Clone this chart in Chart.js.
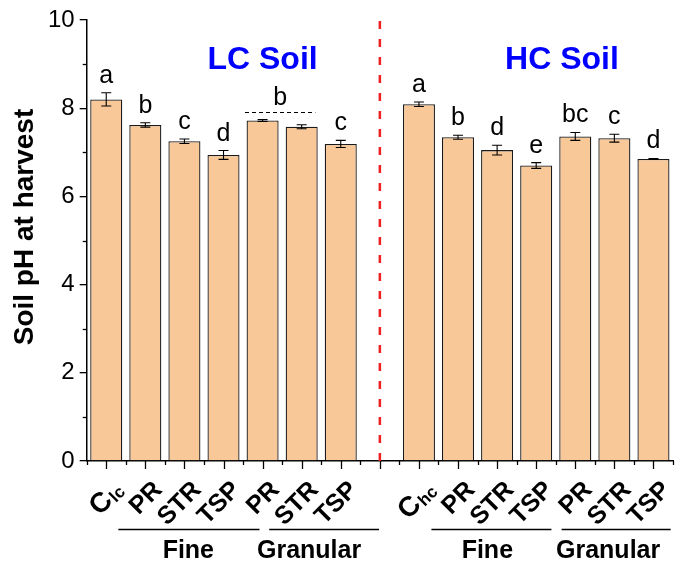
<!DOCTYPE html>
<html><head><meta charset="utf-8">
<script src="https://cdn.jsdelivr.net/npm/chart.js@4/dist/chart.umd.min.js"></script>
<style>html,body{margin:0;padding:0;background:#fff}</style>
</head><body>
<canvas id="c" width="681" height="564"></canvas>
<script>
// ---- data ----
const lcLabels = ['C|lc', 'PR', 'STR', 'TSP', 'PR', 'STR', 'TSP'];
const hcLabels = ['C|hc', 'PR', 'STR', 'TSP', 'PR', 'STR', 'TSP'];
const lcValues = [8.20, 7.62, 7.25, 6.94, 7.72, 7.58, 7.19];
const lcErrors = [0.15, 0.05, 0.05, 0.10, 0.02, 0.045, 0.08];
const lcLetters = ['a', 'b', 'c', 'd', '', '', 'c'];
const lcSharedLetter = 'b';           // shared by LC granular PR and STR
const hcValues = [8.09, 7.34, 7.05, 6.70, 7.36, 7.32, 6.85];
const hcErrors = [0.05, 0.045, 0.11, 0.065, 0.09, 0.09, 0.01];
const hcLetters = ['a', 'b', 'd', 'e', 'bc', 'c', 'd'];
const groupNames = ['Fine', 'Granular', 'Fine', 'Granular'];
const soilTitles = ['LC Soil', 'HC Soil'];
const yTicks = [0, 2, 4, 6, 8, 10];
const yTitle = 'Soil pH at harvest';

// ---- build ----
const labels = [...lcLabels, '', ...hcLabels];
const values = [...lcValues, null, ...hcValues];
const errors = [...lcErrors, null, ...hcErrors];
const letters = [...lcLetters, '', ...hcLetters];
const FONT = "'Liberation Sans', Arial, sans-serif";

const overlay = {
  id: 'overlay',
  afterDraw(chart) {
    const ctx = chart.ctx, x = chart.scales.x, y = chart.scales.y, ca = chart.chartArea;
    ctx.save();
    ctx.strokeStyle = '#000'; ctx.fillStyle = '#000';
    // y minor ticks
    ctx.lineWidth = 1.3;
    for (let v = 1; v < 10; v += 2) {
      const py = Math.round(y.getPixelForValue(v)) + 0.5;
      ctx.beginPath(); ctx.moveTo(ca.left - 4, py); ctx.lineTo(ca.left, py); ctx.stroke();
    }
    // x ticks: long at centers, short at boundaries
    for (let i = 0; i < labels.length; i++) {
      const px = Math.round(x.getPixelForValue(i)) + 0.5;
      ctx.beginPath(); ctx.moveTo(px, ca.bottom); ctx.lineTo(px, ca.bottom + 8); ctx.stroke();
    }
    for (let i = 0; i <= labels.length; i++) {
      const px = Math.round(x.getPixelForValue(i - 0.5)) + 0.5;
      ctx.beginPath(); ctx.moveTo(px, ca.bottom); ctx.lineTo(px, ca.bottom + 4); ctx.stroke();
    }
    // error bars + letters
    ctx.lineWidth = 1.1;
    ctx.font = '25px ' + FONT; ctx.textAlign = 'center'; ctx.textBaseline = 'alphabetic';
    values.forEach((v, i) => {
      if (v === null) return;
      const e = errors[i], px = x.getPixelForValue(i);
      const yt = y.getPixelForValue(v + e), yb = y.getPixelForValue(v - e);
      ctx.beginPath();
      ctx.moveTo(px, yt); ctx.lineTo(px, yb);
      ctx.moveTo(px - 5, yt); ctx.lineTo(px + 5, yt);
      ctx.moveTo(px - 5, yb); ctx.lineTo(px + 5, yb);
      ctx.stroke();
      if (letters[i]) ctx.fillText(letters[i], px, yt - 10);
    });
    // shared letter over LC granular PR & STR
    {
      const top = Math.min(y.getPixelForValue(lcValues[4] + lcErrors[4]), y.getPixelForValue(lcValues[5] + lcErrors[5]));
      const ly = Math.round(top - 8) + 0.5;
      ctx.setLineDash([4, 3]); ctx.lineWidth = 1.1;
      ctx.beginPath(); ctx.moveTo(x.getPixelForValue(3.55), ly); ctx.lineTo(x.getPixelForValue(5.35), ly); ctx.stroke();
      ctx.setLineDash([]);
      ctx.fillText(lcSharedLetter, x.getPixelForValue(4.45), ly - 8);
    }
    // red dashed separator
    ctx.strokeStyle = '#f01e1e'; ctx.lineWidth = 2.5; ctx.setLineDash([8, 10]);
    const sx = x.getPixelForValue(7);
    ctx.beginPath(); ctx.moveTo(sx, ca.top + 1); ctx.lineTo(sx, ca.bottom); ctx.stroke();
    ctx.setLineDash([]);
    // soil titles
    ctx.fillStyle = '#0000ff'; ctx.font = 'bold 32px ' + FONT; ctx.textBaseline = 'middle';
    ctx.fillText(soilTitles[0], x.getPixelForValue(4.0), y.getPixelForValue(9.09));
    ctx.fillText(soilTitles[1], x.getPixelForValue(11.66), y.getPixelForValue(9.09));
    // x labels rotated
    ctx.fillStyle = '#000';
    labels.forEach((lab, i) => {
      if (!lab) return;
      const px = x.getPixelForValue(i);
      ctx.save();
      ctx.translate(px + 13, ca.bottom + 25);
      ctx.rotate(-Math.PI / 4);
      ctx.textAlign = 'right'; ctx.textBaseline = 'middle';
      if (lab.includes('|')) {
        const [main, sub] = lab.split('|');
        ctx.font = 'bold 17px ' + FONT;
        const sw = ctx.measureText(sub).width;
        ctx.fillText(sub, 0, 5);
        ctx.font = 'bold 28px ' + FONT;
        ctx.fillText(main, -sw - 1, 0);
      } else {
        ctx.font = 'bold 25px ' + FONT;
        ctx.fillText(lab, 0, 0);
      }
      ctx.restore();
    });
    // group lines + names
    const spans = [[0.31, 3.92, 2.1], [4.17, 6.98, 5.19], [8.32, 11.39, 9.75], [11.65, 14.44, 12.84]];
    ctx.lineWidth = 1.3; ctx.strokeStyle = '#000';
    ctx.font = 'bold 25px ' + FONT; ctx.textAlign = 'center'; ctx.textBaseline = 'alphabetic';
    spans.forEach((s, k) => {
      ctx.beginPath(); ctx.moveTo(x.getPixelForValue(s[0]), 529.5); ctx.lineTo(x.getPixelForValue(s[1]), 529.5); ctx.stroke();
      ctx.fillText(groupNames[k], x.getPixelForValue(s[2]), 558);
    });
    // y title
    ctx.save();
    ctx.translate(25, 227); ctx.rotate(-Math.PI / 2);
    ctx.font = 'bold 28px ' + FONT; ctx.textAlign = 'center'; ctx.textBaseline = 'middle';
    ctx.fillText(yTitle, 0, 0);
    ctx.restore();
    ctx.restore();
  }
};

new Chart(document.getElementById('c'), {
  type: 'bar',
  data: {
    labels: labels.map(l => l.replace('|', '')),
    datasets: [{
      data: values,
      backgroundColor: '#f9c898',
      borderColor: '#1a1a1a',
      borderWidth: 1.3,
      barPercentage: 0.82,
      categoryPercentage: 1
    }]
  },
  options: {
    responsive: false,
    animation: false,
    devicePixelRatio: 1,
    layout: { padding: { top: 20, right: 8, left: 0, bottom: 0 } },
    plugins: { legend: { display: false }, tooltip: { enabled: false } },
    scales: {
      x: {
        offset: true,
        grid: { display: false },
        border: { display: true, color: '#000', width: 1.5 },
        ticks: { display: false },
        afterFit(s) { s.height = 103; }
      },
      y: {
        min: 0, max: 10,
        afterBuildTicks(s) { s.ticks = yTicks.map(v => ({ value: v })); },
        ticks: { color: '#000', font: { family: FONT, size: 24 }, padding: 5 },
        grid: { drawOnChartArea: false, drawTicks: true, tickLength: 7, color: '#000', lineWidth: 1.3 },
        border: { color: '#000', width: 1.5 },
        afterFit(s) { s.width = 86.7; }
      }
    }
  },
  plugins: [overlay]
});
</script>
</body></html>
